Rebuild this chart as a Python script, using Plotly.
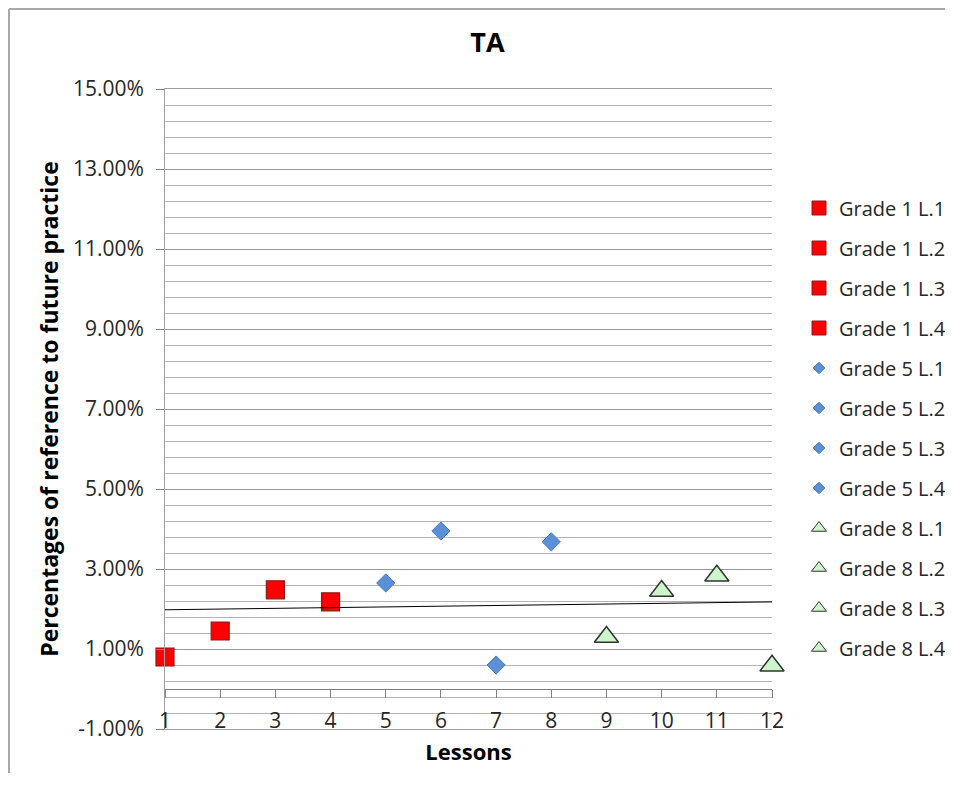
import numpy as np
import plotly.graph_objects as go

lessons = [1, 2, 3, 4, 5, 6, 7, 8, 9, 10, 11, 12]
series_names = ["Grade 1 L.1", "Grade 1 L.2", "Grade 1 L.3", "Grade 1 L.4",
                "Grade 5 L.1", "Grade 5 L.2", "Grade 5 L.3", "Grade 5 L.4",
                "Grade 8 L.1", "Grade 8 L.2", "Grade 8 L.3", "Grade 8 L.4"]
values = [0.0080, 0.0145, 0.0248, 0.0218,
          0.0265, 0.0395, 0.0060, 0.0368,
          0.0130, 0.0245, 0.0283, 0.0058]
grades = ["1", "1", "1", "1", "5", "5", "5", "5", "8", "8", "8", "8"]
y_ticks = [-0.01, 0.01, 0.03, 0.05, 0.07, 0.09, 0.11, 0.13, 0.15]
y_ticktext = [f"{v * 100:.2f}%" for v in y_ticks]

FONT = "Open Sans"
styles = {
    "1": dict(symbol="square", size=18, color="#ff0000",
              line=dict(color="#8b1a1a", width=1.2)),
    "5": dict(symbol="diamond", size=14, color="#5b8fd6",
              line=dict(color="#4a7bc0", width=1)),
    "8": dict(symbol="triangle-up", size=21, color="#ccf5cc",
              line=dict(color="#333333", width=1.5)),
}
legend_sizes = {"1": 14, "5": 9, "8": 13}

fig = go.Figure()
for name, x, y, g in zip(series_names, lessons, values, grades):
    fig.add_trace(go.Scatter(
        x=[x], y=[y], mode="markers", name=name, legendgroup=name,
        marker=styles[g], cliponaxis=False, showlegend=False,
    ))
    # legend swatch (same series, smaller symbol as in the original legend)
    lm = dict(styles[g])
    lm["size"] = legend_sizes[g]
    lm["line"] = dict(styles[g]["line"], width=1)
    fig.add_trace(go.Scatter(
        x=[None], y=[None], mode="markers", name=name, legendgroup=name,
        marker=lm, showlegend=True,
    ))

# linear trendline over all points
coef = np.polyfit(lessons, values, 1)
trend_x = [lessons[0], lessons[-1]]
trend_y = list(np.polyval(coef, trend_x))
fig.add_trace(go.Scatter(
    x=trend_x, y=trend_y, mode="lines", xaxis="x2", yaxis="y",
    line=dict(color="#000000", width=1), showlegend=False, hoverinfo="skip",
))

ymin, ymax = -0.01, 0.15
zero_pos = (0 - ymin) / (ymax - ymin)

W, H = 945, 765
L, T, PW, PH = 157, 81, 607, 640

fig.update_layout(
    width=W, height=H,
    margin=dict(l=L, r=W - L - PW, t=T, b=H - T - PH, autoexpand=False),
    paper_bgcolor="white", plot_bgcolor="white",
    font=dict(family=FONT, size=20, color="#262626"),
    title=dict(text="<b>TA</b>", x=479.5 / W, xref="container", xanchor="center",
               y=1 - 35 / H, yref="container", yanchor="middle",
               font=dict(family=FONT, size=27, color="#000000")),
    showlegend=True,
    legend=dict(x=(791 - L) / PW, xanchor="left", y=(T + PH - 420) / PH,
                yanchor="middle",
                font=dict(family=FONT, size=20, color="#262626"),
                tracegroupgap=11, itemsizing="trace", itemwidth=30,
                bgcolor="rgba(0,0,0,0)"),
    xaxis=dict(range=[1, 12], showgrid=False, zeroline=False, automargin=False,
               showticklabels=False, ticks="", showline=True, mirror=True,
               linecolor="#a0a0a0", linewidth=1,
               title=dict(text="<b>Lessons</b>", standoff=15,
                          font=dict(family=FONT, size=22, color="#000000"))),
    xaxis2=dict(range=[1, 12], overlaying="x", anchor="free", position=zero_pos,
                side="bottom", showgrid=False, zeroline=False, automargin=False,
                showline=True, linecolor="#808080", linewidth=1,
                ticks="outside", ticklen=8, tickcolor="#808080",
                tickmode="array", tickvals=lessons,
                ticktext=[str(v) for v in lessons],
                ticklabelstandoff=5,
                tickfont=dict(family=FONT, size=21, color="#262626")),
    yaxis=dict(range=[ymin, ymax], zeroline=False, automargin=False,
               tickmode="array", tickvals=y_ticks, ticktext=y_ticktext,
               showgrid=True, gridcolor="#9a9a9a", gridwidth=1,
               showline=True, linecolor="#a0a0a0", linewidth=1,
               ticks="outside", ticklen=8, tickcolor="#808080",
               ticklabelstandoff=8,
               tickfont=dict(family=FONT, size=21, color="#262626"),
               minor=dict(tick0=-0.01, dtick=0.004, showgrid=True,
                          gridcolor="#b4b4b4", gridwidth=1, ticks=""),
               title=dict(text="<b>Percentages of reference to future practice</b>",
                          standoff=7,
                          font=dict(family=FONT, size=23, color="#000000"))),
    shapes=[
        dict(type="line", xref="paper", yref="paper",
             x0=(1 - L) / PW, x1=(W - L) / PW,
             y0=(T + PH - 1) / PH, y1=(T + PH - 1) / PH,
             line=dict(color="#a8a8a8", width=2)),
        dict(type="line", xref="paper", yref="paper",
             x0=(1 - L) / PW, x1=(1 - L) / PW,
             y0=(T + PH - 1) / PH, y1=-(H - T - PH) / PH,
             line=dict(color="#a8a8a8", width=2)),
    ],
)

fig.write_html("out.html")
